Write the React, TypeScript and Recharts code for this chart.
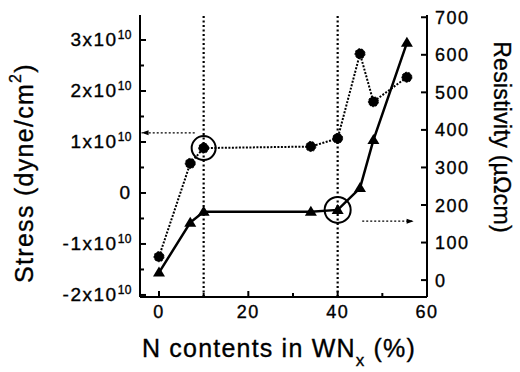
import React from "react";
import {
  ComposedChart,
  Line,
  XAxis,
  YAxis,
  ReferenceLine,
  ReferenceDot,
} from "recharts";

// N content (%) of the WNx films and the measured stress / resistivity
const nContent = [0, 7, 10, 34, 40, 45, 48, 55.5];
const stress = [-1.25e10, 0.58e10, 0.88e10, 0.91e10, 1.07e10, 2.73e10, 1.79e10, 2.27e10];
const resistivity = [20, 153, 182, 182, 187, 245, 373, 632];

// axis ticks (minor ticks carry no label)
const xTicks = [0, 10, 20, 30, 40, 50, 60];
const xLabelled = [0, 20, 40, 60];
const stressTicks = [-2e10, -1.5e10, -1e10, -0.5e10, 0, 0.5e10, 1e10, 1.5e10, 2e10, 2.5e10, 3e10];
const stressLabelled = [-2e10, -1e10, 0, 1e10, 2e10, 3e10];
const resTicks = [0, 100, 200, 300, 400, 500, 600, 700];

// highlighted points and the arrows pointing to their axes
const markedN = [10, 40];
const markedStress = 0.88e10;
const markedRes = 187;
const stressArrow = { y: 1.18e10, from: 8, to: -3.9 };
const resArrow = { y: 157, from: 45.5, to: 57 };

const data = nContent.map((n, i) => ({ n, stress: stress[i], res: resistivity[i] }));

const FONT = "'Liberation Sans', Arial, Helvetica, sans-serif";
const INK = "#000";
// slightly heavier glyphs than the plain regular weight
const textInk = { fill: INK, stroke: INK, strokeWidth: 0.35, fontFamily: FONT };

function BottomTick({ x, y, payload }: any) {
  const v = payload.value;
  const major = xLabelled.includes(v);
  return (
    <g>
      <line x1={x} y1={y} x2={x} y2={y - (major ? 6 : 4)} stroke={INK} strokeWidth={2} />
      {major && (
        <text x={x} y={y + 21} textAnchor="middle" fontSize={18} letterSpacing={1.5} {...textInk}>
          {v}
        </text>
      )}
    </g>
  );
}

function TopTick({ x, y, payload }: any) {
  const major = xLabelled.includes(payload.value);
  return <line x1={x} y1={y} x2={x} y2={y + (major ? 6 : 4)} stroke={INK} strokeWidth={2} />;
}

function StressTick({ x, y, payload }: any) {
  const v = payload.value;
  const major = stressLabelled.some((t) => Math.abs(t - v) < 1);
  const m = Math.round(v / 1e10);
  return (
    <g>
      <line x1={x} y1={y} x2={x + (major ? 6 : 4)} y2={y} stroke={INK} strokeWidth={2} />
      {major &&
        (m === 0 ? (
          <text x={x - 10} y={y + 6} textAnchor="end" fontSize={19} {...textInk}>
            0
          </text>
        ) : (
          <text x={x - 8} y={y + 6} textAnchor="end" fontSize={19} letterSpacing={1.5} {...textInk}>
            {m}x10
            <tspan dy={-7} fontSize={12} letterSpacing={0.5}>
              10
            </tspan>
          </text>
        ))}
    </g>
  );
}

function ResTick({ x, y, payload }: any) {
  return (
    <g>
      <line x1={x} y1={y} x2={x - 6} y2={y} stroke={INK} strokeWidth={2} />
      <text x={x + 8} y={y + 6.5} textAnchor="start" fontSize={18} letterSpacing={1.5} {...textInk}>
        {payload.value}
      </text>
    </g>
  );
}

function Triangle({ cx, cy }: any) {
  if (cx == null || cy == null) return null;
  return <path d={`M${cx},${cy - 6} L${cx + 6},${cy + 4} L${cx - 6},${cy + 4} Z`} fill={INK} />;
}

const arrowHead = (dir: 1 | -1) =>
  function Head({ cx, cy }: any) {
    if (cx == null || cy == null) return <g />;
    return <path d={`M${cx},${cy} L${cx - dir * 7},${cy - 2.5} L${cx - dir * 7},${cy + 2.5} Z`} fill={INK} />;
  };

function StressTitle({ viewBox }: any) {
  const cx = viewBox.x + 24;
  const cy = viewBox.y + 158;
  return (
    <text
      x={cx}
      y={cy}
      transform={`rotate(-90, ${cx}, ${cy})`}
      textAnchor="middle"
      dominantBaseline="central"
      fontSize={25}
      letterSpacing={1.3}
      {...textInk}
    >
      Stress (dyne/cm
      <tspan dy={-9} fontSize={16}>2</tspan>
      <tspan dy={9}>)</tspan>
    </text>
  );
}

function ResTitle({ viewBox }: any) {
  const cx = viewBox.x + 75;
  const cy = viewBox.y + 122;
  return (
    <text
      x={cx}
      y={cy}
      transform={`rotate(90, ${cx}, ${cy})`}
      textAnchor="middle"
      dominantBaseline="central"
      fontSize={23}
      letterSpacing={0.3}
      {...textInk}
    >
      Resistivity (µΩcm)
    </text>
  );
}

function NTitle({ viewBox }: any) {
  return (
    <text x={279} y={viewBox.y + 60} textAnchor="middle" fontSize={25} letterSpacing={1.2} {...textInk}>
      N contents in WN
      <tspan dy={9} fontSize={17}>x</tspan>
      <tspan dy={-9}> (%)</tspan>
    </text>
  );
}

export default function App() {
  return (
    <div style={{ position: "absolute", left: 0, top: 0, background: "#fff" }}>
      <ComposedChart width={520} height={372} data={data} margin={{ top: 15, right: 0, bottom: 0, left: 0 }}>
        <XAxis
          dataKey="n"
          type="number"
          domain={[-4.25, 60]}
          allowDataOverflow
          ticks={xTicks}
          interval={0}
          height={75}
          tickSize={0}
          tickMargin={0}
          tickLine={false}
          tick={<BottomTick />}
          axisLine={{ stroke: INK, strokeWidth: 2 }}
          label={{ content: (p: any) => <NTitle {...p} /> }}
        />
        <XAxis
          xAxisId="top"
          orientation="top"
          dataKey="n"
          type="number"
          domain={[-4.25, 60]}
          allowDataOverflow
          ticks={xTicks}
          interval={0}
          height={0}
          tickSize={0}
          tickMargin={0}
          tickLine={false}
          tick={<TopTick />}
          axisLine={{ stroke: INK, strokeWidth: 2 }}
        />
        <YAxis
          yAxisId="left"
          type="number"
          domain={[-2.04e10, 3.49e10]}
          allowDataOverflow
          ticks={stressTicks}
          interval={0}
          width={140}
          tickSize={0}
          tickMargin={0}
          tickLine={false}
          tick={<StressTick />}
          axisLine={{ stroke: INK, strokeWidth: 2 }}
          label={{ content: (p: any) => <StressTitle {...p} /> }}
        />
        <YAxis
          yAxisId="right"
          orientation="right"
          type="number"
          domain={[-45, 706]}
          allowDataOverflow
          ticks={resTicks}
          interval={0}
          width={93}
          tickSize={0}
          tickMargin={0}
          tickLine={false}
          tick={<ResTick />}
          axisLine={{ stroke: INK, strokeWidth: 2 }}
          label={{ content: (p: any) => <ResTitle {...p} /> }}
        />

        {/* guide lines through the two marked compositions */}
        {markedN.map((n) => (
          <ReferenceLine
            key={n}
            x={n}
            yAxisId="left"
            stroke={INK}
            strokeWidth={2.2}
            strokeDasharray="2 2.5"
          />
        ))}
        <ReferenceLine
          yAxisId="left"
          segment={[
            { x: stressArrow.from, y: stressArrow.y },
            { x: stressArrow.to, y: stressArrow.y },
          ]}
          stroke={INK}
          strokeWidth={1.3}
          strokeDasharray="2 2"
          ifOverflow="visible"
        />
        <ReferenceDot
          yAxisId="left"
          x={stressArrow.to}
          y={stressArrow.y}
          ifOverflow="visible"
          shape={arrowHead(-1)}
        />
        <ReferenceLine
          yAxisId="right"
          segment={[
            { x: resArrow.from, y: resArrow.y },
            { x: resArrow.to, y: resArrow.y },
          ]}
          stroke={INK}
          strokeWidth={1.3}
          strokeDasharray="2 2"
          ifOverflow="visible"
        />
        <ReferenceDot
          yAxisId="right"
          x={resArrow.to}
          y={resArrow.y}
          ifOverflow="visible"
          shape={arrowHead(1)}
        />

        <Line
          yAxisId="left"
          dataKey="stress"
          type="linear"
          stroke={INK}
          strokeWidth={2}
          strokeDasharray="2 1.5"
          dot={{ r: 5, fill: INK, stroke: INK, strokeWidth: 1 }}
          activeDot={false}
          isAnimationActive={false}
        />
        <Line
          yAxisId="right"
          dataKey="res"
          type="linear"
          stroke={INK}
          strokeWidth={2.5}
          dot={(p: any) => <Triangle key={p.index} {...p} />}
          activeDot={false}
          isAnimationActive={false}
        />

        {/* open circles around the highlighted points */}
        <ReferenceDot
          yAxisId="left"
          x={markedN[0]}
          y={markedStress}
          r={12}
          fill="none"
          stroke={INK}
          strokeWidth={2}
        />
        <ReferenceDot
          yAxisId="right"
          x={markedN[1]}
          y={markedRes}
          r={13}
          fill="none"
          stroke={INK}
          strokeWidth={2}
        />
      </ComposedChart>
    </div>
  );
}
